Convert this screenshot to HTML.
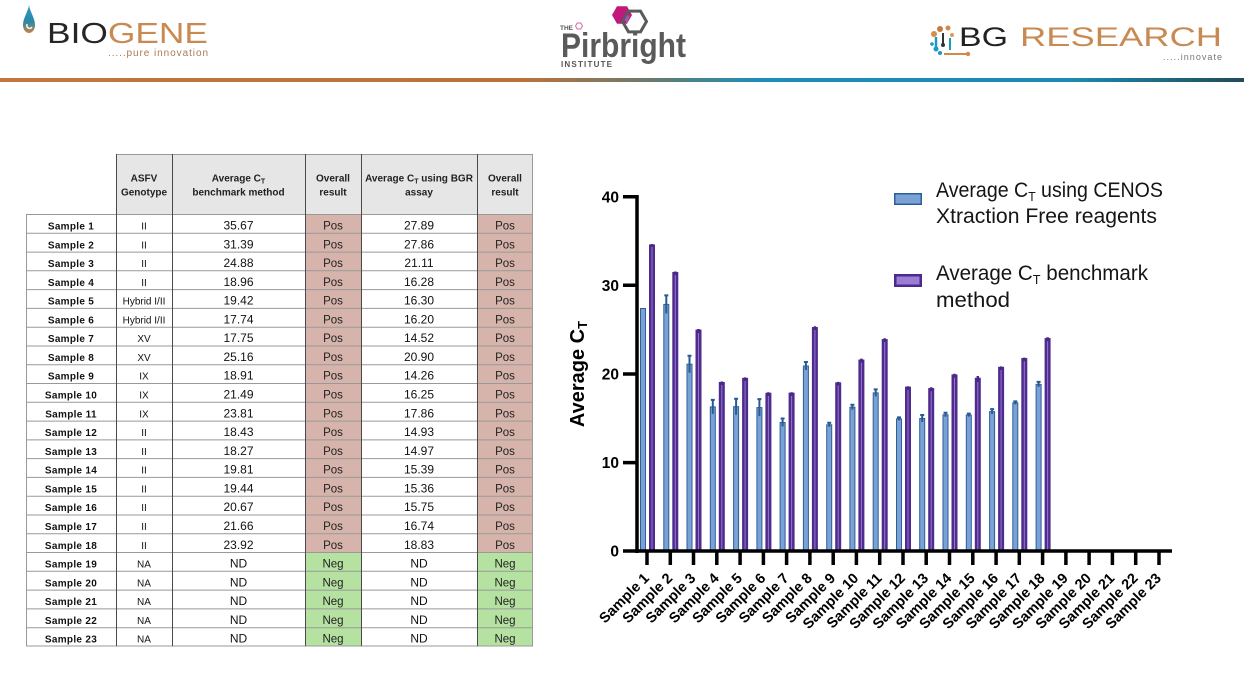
<!DOCTYPE html>
<html><head><meta charset="utf-8"><style>
html,body{margin:0;padding:0;background:#fff;}
svg{display:block;}
text{font-family:"Liberation Sans",Arial,sans-serif;}
.s{font-weight:bold;font-size:10px;text-anchor:middle;fill:#111;letter-spacing:0.3px;}
.g{font-size:10px;text-anchor:middle;fill:#111;}
.v{font-size:12px;text-anchor:middle;fill:#111;}
.p{font-size:11.5px;text-anchor:middle;fill:#222;}
.h{font-weight:bold;font-size:10px;text-anchor:middle;fill:#222;}
.yt{font-weight:bold;font-size:15.5px;text-anchor:end;fill:#000;}
.xl{font-weight:bold;font-size:14.5px;text-anchor:end;fill:#000;}
.lg{font-size:21px;fill:#151515;}
</style></head><body>
<svg width="1244" height="700" viewBox="0 0 1244 700" xmlns="http://www.w3.org/2000/svg">
<defs>
<linearGradient id="band" x1="0" y1="0" x2="1" y2="0">
<stop offset="0" stop-color="#c4763e"/>
<stop offset="0.42" stop-color="#bd703c"/>
<stop offset="0.52" stop-color="#6c7a6c"/>
<stop offset="0.61" stop-color="#1c8fb6"/>
<stop offset="0.86" stop-color="#1a8bb2"/>
<stop offset="1" stop-color="#234a58"/>
</linearGradient>
<linearGradient id="drop" x1="0" y1="0" x2="0" y2="1">
<stop offset="0" stop-color="#2c9cc0"/>
<stop offset="0.6" stop-color="#2a88a8"/>
<stop offset="1" stop-color="#c8844a"/>
</linearGradient>
</defs>

<!-- ===== Header logos ===== -->
<path d="M29,5 C28,12 23,18 23,25 C23,30 26,33 29,33 C32,33 35,30 35,25 C35,18 30,12 29,5Z" fill="url(#drop)"/>
<path d="M27,24 C26,28 30,30 32,27" stroke="#fff" stroke-width="1.4" fill="none"/>
<text x="47" y="43" font-size="29" textLength="161" lengthAdjust="spacingAndGlyphs"><tspan fill="#262626">BIO</tspan><tspan fill="#c98a52">GENE</tspan></text>
<text x="108" y="56" font-size="10" fill="#a87a58" textLength="100">.....pure innovation</text>

<text x="560" y="30" font-size="6.5" font-weight="bold" fill="#555">THE</text>
<polygon points="582.5,26 580.8,29 577.2,29 575.5,26 577.2,23 580.8,23" fill="none" stroke="#d46aa0" stroke-width="1"/>
<polygon points="632,15 627,23.7 617,23.7 612,15 617,6.3 627,6.3" fill="#c0187c"/>
<polygon points="646.5,21.5 640.5,31.9 628.5,31.9 622.5,21.5 628.5,11.1 640.5,11.1" fill="none" stroke="#5a5a5a" stroke-width="3"/>
<polygon points="627,23.7 624.7,19.7 627,15.5 630,15.5 627,23.7" fill="#9a5ab0"/>
<text x="561" y="57" font-size="34" font-weight="bold" fill="#5a5a5a" textLength="125" lengthAdjust="spacingAndGlyphs">Pirbright</text>
<text x="561" y="67" font-size="8" font-weight="bold" fill="#555" textLength="51">INSTITUTE</text>

<g>
<circle cx="934" cy="34" r="3" fill="#d88a48"/>
<circle cx="940" cy="29" r="3" fill="#c87a40"/>
<circle cx="948" cy="28" r="2.5" fill="#d08a4a"/>
<circle cx="952" cy="35" r="2" fill="#e09a55"/>
<path d="M936,37 V48" stroke="#1a9ac0" stroke-width="2.5"/>
<circle cx="936" cy="49" r="2.5" fill="#1a9ac0"/>
<path d="M943,33 V44" stroke="#333" stroke-width="2"/>
<circle cx="943" cy="45" r="2" fill="#333"/>
<path d="M950,38 V50" stroke="#1a9ac0" stroke-width="2"/>
<circle cx="932" cy="44" r="1.8" fill="#1a9ac0"/>
<path d="M944,54 H967" stroke="#d08a4a" stroke-width="2"/>
<circle cx="968" cy="54" r="2.2" fill="#d08a4a"/>
<circle cx="940" cy="53" r="2" fill="#1a9ac0"/>
</g>
<text x="959" y="46" font-size="27" fill="#222" textLength="49" lengthAdjust="spacingAndGlyphs">BG</text>
<text x="1020" y="46" font-size="27" fill="#c98a52" textLength="202" lengthAdjust="spacingAndGlyphs">RESEARCH</text>
<text x="1163" y="60" font-size="9" fill="#777" textLength="59">.....innovate</text>

<rect x="0" y="78" width="1244" height="4" fill="url(#band)"/>

<!-- ===== Table ===== -->
<rect x="116" y="154" width="417" height="60" fill="#e6e6e6"/>
<rect x="305" y="214" width="56" height="338" fill="#d6b4ab"/>
<rect x="477" y="214" width="56" height="338" fill="#d6b4ab"/>
<rect x="305" y="552" width="56" height="94" fill="#b5e1a1"/>
<rect x="477" y="552" width="56" height="94" fill="#b5e1a1"/>

<g stroke="#999" stroke-width="1" fill="none">
<path d="M116,154.5 H533"/>
<path d="M26,214.5 H533 M26,233.3 H533 M26,252.1 H533 M26,270.8 H533 M26,289.6 H533 M26,308.4 H533 M26,327.2 H533 M26,346 H533 M26,364.7 H533 M26,383.5 H533 M26,402.3 H533 M26,421.1 H533 M26,439.9 H533 M26,458.6 H533 M26,477.4 H533 M26,496.2 H533 M26,515 H533 M26,533.8 H533 M26,552.5 H533 M26,571.3 H533 M26,590.1 H533 M26,608.9 H533 M26,627.7 H533 M26,646 H533"/>
<path d="M26.5,214 V646 M532.5,154 V646"/>
</g>
<g stroke="#4a4a4a" stroke-width="1" fill="none">
<path d="M116.5,154 V646 M172.5,154 V646 M305.5,154 V646 M361.5,154 V646 M477.5,154 V646"/>
</g>

<text class="h" x="144" y="181.5">ASFV</text>
<text class="h" x="144" y="195.5">Genotype</text>
<text class="h" x="238.5" y="181.5">Average C<tspan font-size="7" dy="2">T</tspan></text>
<text class="h" x="238.5" y="195.5">benchmark method</text>
<text class="h" x="333" y="181.5">Overall</text>
<text class="h" x="333" y="195.5">result</text>
<text class="h" x="419" y="181.5">Average C<tspan font-size="7" dy="2">T</tspan><tspan dy="-2"> using BGR</tspan></text>
<text class="h" x="419" y="195.5">assay</text>
<text class="h" x="505" y="181.5">Overall</text>
<text class="h" x="505" y="195.5">result</text>

<g transform="translate(0,214)"><text class="s" x="71" y="15.5">Sample 1</text><text class="g" x="144" y="15.5">II</text><text class="v" x="238.5" y="15.5">35.67</text><text class="p" x="333" y="15.5">Pos</text><text class="v" x="419" y="15.5">27.89</text><text class="p" x="505" y="15.5">Pos</text></g>
<g transform="translate(0,232.8)"><text class="s" x="71" y="15.5">Sample 2</text><text class="g" x="144" y="15.5">II</text><text class="v" x="238.5" y="15.5">31.39</text><text class="p" x="333" y="15.5">Pos</text><text class="v" x="419" y="15.5">27.86</text><text class="p" x="505" y="15.5">Pos</text></g>
<g transform="translate(0,251.6)"><text class="s" x="71" y="15.5">Sample 3</text><text class="g" x="144" y="15.5">II</text><text class="v" x="238.5" y="15.5">24.88</text><text class="p" x="333" y="15.5">Pos</text><text class="v" x="419" y="15.5">21.11</text><text class="p" x="505" y="15.5">Pos</text></g>
<g transform="translate(0,270.3)"><text class="s" x="71" y="15.5">Sample 4</text><text class="g" x="144" y="15.5">II</text><text class="v" x="238.5" y="15.5">18.96</text><text class="p" x="333" y="15.5">Pos</text><text class="v" x="419" y="15.5">16.28</text><text class="p" x="505" y="15.5">Pos</text></g>
<g transform="translate(0,289.1)"><text class="s" x="71" y="15.5">Sample 5</text><text class="g" x="144" y="15.5">Hybrid I/II</text><text class="v" x="238.5" y="15.5">19.42</text><text class="p" x="333" y="15.5">Pos</text><text class="v" x="419" y="15.5">16.30</text><text class="p" x="505" y="15.5">Pos</text></g>
<g transform="translate(0,307.9)"><text class="s" x="71" y="15.5">Sample 6</text><text class="g" x="144" y="15.5">Hybrid I/II</text><text class="v" x="238.5" y="15.5">17.74</text><text class="p" x="333" y="15.5">Pos</text><text class="v" x="419" y="15.5">16.20</text><text class="p" x="505" y="15.5">Pos</text></g>
<g transform="translate(0,326.7)"><text class="s" x="71" y="15.5">Sample 7</text><text class="g" x="144" y="15.5">XV</text><text class="v" x="238.5" y="15.5">17.75</text><text class="p" x="333" y="15.5">Pos</text><text class="v" x="419" y="15.5">14.52</text><text class="p" x="505" y="15.5">Pos</text></g>
<g transform="translate(0,345.5)"><text class="s" x="71" y="15.5">Sample 8</text><text class="g" x="144" y="15.5">XV</text><text class="v" x="238.5" y="15.5">25.16</text><text class="p" x="333" y="15.5">Pos</text><text class="v" x="419" y="15.5">20.90</text><text class="p" x="505" y="15.5">Pos</text></g>
<g transform="translate(0,364.2)"><text class="s" x="71" y="15.5">Sample 9</text><text class="g" x="144" y="15.5">IX</text><text class="v" x="238.5" y="15.5">18.91</text><text class="p" x="333" y="15.5">Pos</text><text class="v" x="419" y="15.5">14.26</text><text class="p" x="505" y="15.5">Pos</text></g>
<g transform="translate(0,383)"><text class="s" x="71" y="15.5">Sample 10</text><text class="g" x="144" y="15.5">IX</text><text class="v" x="238.5" y="15.5">21.49</text><text class="p" x="333" y="15.5">Pos</text><text class="v" x="419" y="15.5">16.25</text><text class="p" x="505" y="15.5">Pos</text></g>
<g transform="translate(0,401.8)"><text class="s" x="71" y="15.5">Sample 11</text><text class="g" x="144" y="15.5">IX</text><text class="v" x="238.5" y="15.5">23.81</text><text class="p" x="333" y="15.5">Pos</text><text class="v" x="419" y="15.5">17.86</text><text class="p" x="505" y="15.5">Pos</text></g>
<g transform="translate(0,420.6)"><text class="s" x="71" y="15.5">Sample 12</text><text class="g" x="144" y="15.5">II</text><text class="v" x="238.5" y="15.5">18.43</text><text class="p" x="333" y="15.5">Pos</text><text class="v" x="419" y="15.5">14.93</text><text class="p" x="505" y="15.5">Pos</text></g>
<g transform="translate(0,439.4)"><text class="s" x="71" y="15.5">Sample 13</text><text class="g" x="144" y="15.5">II</text><text class="v" x="238.5" y="15.5">18.27</text><text class="p" x="333" y="15.5">Pos</text><text class="v" x="419" y="15.5">14.97</text><text class="p" x="505" y="15.5">Pos</text></g>
<g transform="translate(0,458.1)"><text class="s" x="71" y="15.5">Sample 14</text><text class="g" x="144" y="15.5">II</text><text class="v" x="238.5" y="15.5">19.81</text><text class="p" x="333" y="15.5">Pos</text><text class="v" x="419" y="15.5">15.39</text><text class="p" x="505" y="15.5">Pos</text></g>
<g transform="translate(0,476.9)"><text class="s" x="71" y="15.5">Sample 15</text><text class="g" x="144" y="15.5">II</text><text class="v" x="238.5" y="15.5">19.44</text><text class="p" x="333" y="15.5">Pos</text><text class="v" x="419" y="15.5">15.36</text><text class="p" x="505" y="15.5">Pos</text></g>
<g transform="translate(0,495.7)"><text class="s" x="71" y="15.5">Sample 16</text><text class="g" x="144" y="15.5">II</text><text class="v" x="238.5" y="15.5">20.67</text><text class="p" x="333" y="15.5">Pos</text><text class="v" x="419" y="15.5">15.75</text><text class="p" x="505" y="15.5">Pos</text></g>
<g transform="translate(0,514.5)"><text class="s" x="71" y="15.5">Sample 17</text><text class="g" x="144" y="15.5">II</text><text class="v" x="238.5" y="15.5">21.66</text><text class="p" x="333" y="15.5">Pos</text><text class="v" x="419" y="15.5">16.74</text><text class="p" x="505" y="15.5">Pos</text></g>
<g transform="translate(0,533.3)"><text class="s" x="71" y="15.5">Sample 18</text><text class="g" x="144" y="15.5">II</text><text class="v" x="238.5" y="15.5">23.92</text><text class="p" x="333" y="15.5">Pos</text><text class="v" x="419" y="15.5">18.83</text><text class="p" x="505" y="15.5">Pos</text></g>
<g transform="translate(0,552)"><text class="s" x="71" y="15.5">Sample 19</text><text class="g" x="144" y="15.5">NA</text><text class="v" x="238.5" y="15.5">ND</text><text class="p" x="333" y="15.5">Neg</text><text class="v" x="419" y="15.5">ND</text><text class="p" x="505" y="15.5">Neg</text></g>
<g transform="translate(0,570.8)"><text class="s" x="71" y="15.5">Sample 20</text><text class="g" x="144" y="15.5">NA</text><text class="v" x="238.5" y="15.5">ND</text><text class="p" x="333" y="15.5">Neg</text><text class="v" x="419" y="15.5">ND</text><text class="p" x="505" y="15.5">Neg</text></g>
<g transform="translate(0,589.6)"><text class="s" x="71" y="15.5">Sample 21</text><text class="g" x="144" y="15.5">NA</text><text class="v" x="238.5" y="15.5">ND</text><text class="p" x="333" y="15.5">Neg</text><text class="v" x="419" y="15.5">ND</text><text class="p" x="505" y="15.5">Neg</text></g>
<g transform="translate(0,608.4)"><text class="s" x="71" y="15.5">Sample 22</text><text class="g" x="144" y="15.5">NA</text><text class="v" x="238.5" y="15.5">ND</text><text class="p" x="333" y="15.5">Neg</text><text class="v" x="419" y="15.5">ND</text><text class="p" x="505" y="15.5">Neg</text></g>
<g transform="translate(0,627.2)"><text class="s" x="71" y="15.5">Sample 23</text><text class="g" x="144" y="15.5">NA</text><text class="v" x="238.5" y="15.5">ND</text><text class="p" x="333" y="15.5">Neg</text><text class="v" x="419" y="15.5">ND</text><text class="p" x="505" y="15.5">Neg</text></g>

<!-- ===== Chart ===== -->
<!-- blue bars -->
<g fill="#7aa2d6" stroke="#2d5e98" stroke-width="1">
<rect x="640.5" y="308.5" width="5" height="242.5"/>
<rect x="663.8" y="304.4" width="5" height="246.6"/>
<rect x="687" y="364.2" width="5" height="186.8"/>
<rect x="710.3" y="406.9" width="5" height="144.1"/>
<rect x="733.6" y="406.7" width="5" height="144.3"/>
<rect x="756.9" y="407.6" width="5" height="143.4"/>
<rect x="780.1" y="422.5" width="5" height="128.5"/>
<rect x="803.4" y="366" width="5" height="185"/>
<rect x="826.7" y="424.8" width="5" height="126.2"/>
<rect x="849.9" y="407.2" width="5" height="143.8"/>
<rect x="873.2" y="392.9" width="5" height="158.1"/>
<rect x="896.5" y="418.9" width="5" height="132.1"/>
<rect x="919.7" y="418.5" width="5" height="132.5"/>
<rect x="943" y="414.8" width="5" height="136.2"/>
<rect x="966.3" y="415.1" width="5" height="135.9"/>
<rect x="989.6" y="411.6" width="5" height="139.4"/>
<rect x="1012.8" y="402.9" width="5" height="148.1"/>
<rect x="1036.1" y="384.4" width="5" height="166.6"/>
</g>
<!-- purple bars -->
<g fill="#9478d4" stroke="#4f2b8d" stroke-width="2.5">
<rect x="650.25" y="245.7" width="3.5" height="305.3"/>
<rect x="673.55" y="273.2" width="3.5" height="277.8"/>
<rect x="696.75" y="330.8" width="3.5" height="220.2"/>
<rect x="720.05" y="383.2" width="3.5" height="167.8"/>
<rect x="743.35" y="379.1" width="3.5" height="171.9"/>
<rect x="766.65" y="394" width="3.5" height="157"/>
<rect x="789.85" y="393.9" width="3.5" height="157.1"/>
<rect x="813.15" y="328.3" width="3.5" height="222.7"/>
<rect x="836.45" y="383.6" width="3.5" height="167.4"/>
<rect x="859.65" y="360.8" width="3.5" height="190.2"/>
<rect x="882.95" y="340.3" width="3.5" height="210.7"/>
<rect x="906.25" y="387.9" width="3.5" height="163.1"/>
<rect x="929.45" y="389.3" width="3.5" height="161.7"/>
<rect x="952.75" y="375.7" width="3.5" height="175.3"/>
<rect x="976.05" y="379" width="3.5" height="172"/>
<rect x="999.35" y="368.1" width="3.5" height="182.9"/>
<rect x="1022.55" y="359.3" width="3.5" height="191.7"/>
<rect x="1045.85" y="339.3" width="3.5" height="211.7"/>
</g>
<!-- blue error bars -->
<g stroke="#2a5a94" stroke-width="2" fill="none">
<path d="M666.3,295.4 V313.4 M664.3,295.4 H668.3"/>
<path d="M689.5,355.7 V372.7 M687.5,355.7 H691.5"/>
<path d="M712.8,399.9 V413.9 M710.8,399.9 H714.8"/>
<path d="M736.1,398.7 V414.7 M734.1,398.7 H738.1"/>
<path d="M759.4,399.1 V416.1 M757.4,399.1 H761.4"/>
<path d="M782.6,418.5 V426.5 M780.6,418.5 H784.6"/>
<path d="M805.9,362 V370 M803.9,362 H807.9"/>
<path d="M829.2,422.8 V426.8 M827.2,422.8 H831.2"/>
<path d="M852.4,404.7 V409.7 M850.4,404.7 H854.4"/>
<path d="M875.7,389.4 V396.4 M873.7,389.4 H877.7"/>
<path d="M899,417.4 V420.4 M897,417.4 H901"/>
<path d="M922.2,415 V422 M920.2,415 H924.2"/>
<path d="M945.5,412.8 V416.8 M943.5,412.8 H947.5"/>
<path d="M968.8,413.6 V416.6 M966.8,413.6 H970.8"/>
<path d="M992.1,409.1 V414.1 M990.1,409.1 H994.1"/>
<path d="M1015.3,401.4 V404.4 M1013.3,401.4 H1017.3"/>
<path d="M1038.6,381.9 V386.9 M1036.6,381.9 H1040.6"/>
</g>
<!-- purple error bars -->
<g stroke="#4a2888" stroke-width="2.5" fill="none">
<path d="M652,244 V247 M675.3,271.5 V275 M698.5,329 V333 M721.8,381.5 V385 M745.1,377.4 V381 M768.4,392.3 V396 M791.6,392.2 V396 M814.9,326.3 V330 M838.2,381.9 V385.5 M861.4,358.6 V362.8 M884.7,338.3 V342 M908,386.2 V390 M931.2,387.3 V391.3 M954.5,373.7 V377.7 M977.8,376 V382 M1001.1,366.4 V370 M1024.3,357.6 V361.3 M1047.6,337.3 V341.3"/>
</g>

<!-- axes -->
<g stroke="#000" stroke-width="3.5" fill="none">
<path d="M637,195 V553"/>
<path d="M635.3,551 H1172"/>
<path d="M623,196.7 H637 M623,285.3 H637 M623,374 H637 M623,462.6 H637"/>
<path d="M623,551 H637"/>
<path d="M647,551 V565 M670.3,551 V565 M693.5,551 V565 M716.8,551 V565 M740.1,551 V565 M763.4,551 V565 M786.6,551 V565 M809.9,551 V565 M833.2,551 V565 M856.4,551 V565 M879.7,551 V565 M903,551 V565 M926.2,551 V565 M949.5,551 V565 M972.8,551 V565 M996.1,551 V565 M1019.3,551 V565 M1042.6,551 V565 M1065.9,551 V565 M1089.1,551 V565 M1112.4,551 V565 M1135.7,551 V565 M1159,551 V565"/>
</g>
<text class="yt" x="619" y="202.3">40</text>
<text class="yt" x="619" y="290.9">30</text>
<text class="yt" x="619" y="379.6">20</text>
<text class="yt" x="619" y="468.2">10</text>
<text class="yt" x="619" y="556.6">0</text>

<text transform="translate(584,374) rotate(-90)" font-size="20" font-weight="bold" text-anchor="middle" fill="#000">Average C<tspan font-size="13" dy="3">T</tspan></text>

<text class="xl" transform="translate(650,579) rotate(-45)">Sample 1</text>
<text class="xl" transform="translate(673.3,579) rotate(-45)">Sample 2</text>
<text class="xl" transform="translate(696.5,579) rotate(-45)">Sample 3</text>
<text class="xl" transform="translate(719.8,579) rotate(-45)">Sample 4</text>
<text class="xl" transform="translate(743.1,579) rotate(-45)">Sample 5</text>
<text class="xl" transform="translate(766.4,579) rotate(-45)">Sample 6</text>
<text class="xl" transform="translate(789.6,579) rotate(-45)">Sample 7</text>
<text class="xl" transform="translate(812.9,579) rotate(-45)">Sample 8</text>
<text class="xl" transform="translate(836.2,579) rotate(-45)">Sample 9</text>
<text class="xl" transform="translate(859.4,579) rotate(-45)">Sample 10</text>
<text class="xl" transform="translate(882.7,579) rotate(-45)">Sample 11</text>
<text class="xl" transform="translate(906,579) rotate(-45)">Sample 12</text>
<text class="xl" transform="translate(929.2,579) rotate(-45)">Sample 13</text>
<text class="xl" transform="translate(952.5,579) rotate(-45)">Sample 14</text>
<text class="xl" transform="translate(975.8,579) rotate(-45)">Sample 15</text>
<text class="xl" transform="translate(999.1,579) rotate(-45)">Sample 16</text>
<text class="xl" transform="translate(1022.3,579) rotate(-45)">Sample 17</text>
<text class="xl" transform="translate(1045.6,579) rotate(-45)">Sample 18</text>
<text class="xl" transform="translate(1068.9,579) rotate(-45)">Sample 19</text>
<text class="xl" transform="translate(1092.1,579) rotate(-45)">Sample 20</text>
<text class="xl" transform="translate(1115.4,579) rotate(-45)">Sample 21</text>
<text class="xl" transform="translate(1138.7,579) rotate(-45)">Sample 22</text>
<text class="xl" transform="translate(1162,579) rotate(-45)">Sample 23</text>

<!-- legend -->
<rect x="894.75" y="193.75" width="26.5" height="10.5" fill="#7aa2d6" stroke="#2d5e98" stroke-width="1.5"/>
<rect x="895.25" y="275.25" width="25.5" height="10.5" fill="#9a7ed4" stroke="#4e2a8e" stroke-width="2.5"/>
<text class="lg" x="936" y="197" textLength="227" lengthAdjust="spacingAndGlyphs">Average C<tspan font-size="13" dy="4">T</tspan><tspan dy="-4"> using CENOS</tspan></text>
<text class="lg" x="936" y="223" textLength="221" lengthAdjust="spacingAndGlyphs">Xtraction Free reagents</text>
<text class="lg" x="936" y="280" textLength="212" lengthAdjust="spacingAndGlyphs">Average C<tspan font-size="13" dy="4">T</tspan><tspan dy="-4"> benchmark</tspan></text>
<text class="lg" x="936" y="307" textLength="74" lengthAdjust="spacingAndGlyphs">method</text>
</svg>
</body></html>
